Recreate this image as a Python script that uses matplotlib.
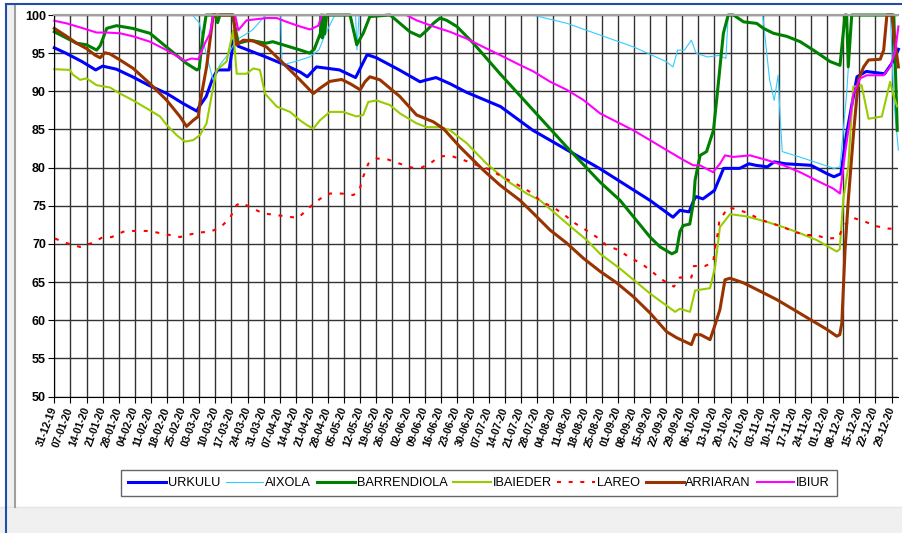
import numpy as np
import pandas as pd
import matplotlib
matplotlib.use("Agg")
import matplotlib.pyplot as plt
import matplotlib.dates as mdates
from matplotlib.patches import Rectangle
from matplotlib.lines import Line2D

# reservoir levels (%), x = days after 31-12-2019
start = pd.Timestamp("2019-12-31")

urkulu_d = [0, 5, 12, 18, 21, 27, 34, 41, 49, 56, 62, 63, 66, 69, 71, 76, 78, 80, 86, 92, 100, 107, 110, 114, 124,
            131, 136, 140, 150, 159, 162, 166, 172, 179, 194, 208, 223, 237, 248, 259, 269, 272, 276, 278, 279, 282,
            287, 291, 298, 302, 305, 310, 313, 318, 329, 336, 339, 342, 344.5, 349, 353, 361, 364, 366, 367]
urkulu_v = [95.7, 95.0, 93.9, 92.8, 93.3, 92.9, 91.9, 90.8, 89.7, 88.4, 87.4, 88.0, 89.3, 91.8, 92.8, 92.8, 96.7,
            95.9, 95.2, 94.5, 93.5, 92.5, 91.9, 93.2, 92.8, 91.8, 94.8, 94.4, 92.8, 91.25, 91.5, 91.8, 91.0, 89.9,
            88.0, 84.9, 82.3, 79.9, 77.8, 75.7, 73.5, 74.4, 74.2, 75.7, 76.2, 75.9, 77.0, 79.9, 79.9, 80.5, 80.3,
            80.1, 80.75, 80.5, 80.3, 79.2, 78.8, 79.2, 84.5, 91.9, 92.6, 92.3, 93.6, 94.75, 95.5]

aixola_d = [0, 60, 63, 66, 69, 72, 76, 79, 86, 92, 98.5, 99, 101, 107, 111, 115, 118, 122, 131, 131.6, 132.5, 208,
            223, 237, 252, 266, 269, 271, 274, 277, 279, 284, 289, 292, 293, 308, 311, 313, 314.7, 315.5, 316.5,
            324, 339, 341.6, 344.5, 346.7, 363.5, 365, 367]
aixola_v = [100, 100, 99, 95, 91.5, 93.5, 95, 96.7, 98, 100, 100, 93.4, 93.6, 94.1, 94.5, 95.4, 97.6, 100, 100,
            95.4, 100, 100, 98.9, 97.4, 95.8, 93.9, 93.2, 95.4, 95.4, 96.7, 95.0, 94.5, 94.7, 94.3, 100, 100, 91.5,
            88.8, 92.1, 87.1, 82.1, 81.4, 79.9, 80.1, 89.7, 100, 100, 88.8, 82.3]

barrend_d = [0, 9.7, 14, 18.4, 20, 22.8, 27, 34, 41.6, 48.8, 57.5, 62, 63, 64.5, 66, 70, 71, 72, 77.5, 80, 85, 92,
             95, 107, 111, 113, 115.7, 116, 116.5, 117, 117.5, 118.4, 128.6, 131.5, 134.3, 137.2, 146, 150.3, 154.6,
             159, 162, 164.8, 167.7, 170.6, 175, 182.2, 193.8, 208.3, 222.8, 237.3, 246, 259, 263.4, 268.5, 270.5,
             272, 273.4, 276.3, 278, 278.6, 280.8, 283.6, 286.6, 288.7, 290.9, 293, 295.3, 299.7, 305.4, 308.3,
             312.7, 318.5, 324.3, 330, 337.3, 341.6, 343.8, 344.5, 345.2, 346.7, 362, 365, 366.5]
barrend_v = [97.8, 96.3, 96.1, 95.4, 96.0, 98.25, 98.6, 98.25, 97.6, 95.8, 93.65, 92.8, 93.0, 97.0, 100, 100, 99.0,
             100, 100, 96.3, 96.7, 96.3, 96.5, 95.4, 95.0, 95.5, 97.6, 100, 97.0, 100, 97.5, 100, 100, 96.1, 97.6,
             99.8, 100, 98.9, 97.8, 97.2, 98.0, 98.9, 99.6, 99.3, 98.5, 96.3, 92.3, 87.5, 82.7, 78.1, 75.7, 70.9,
             69.6, 68.7, 69.0, 71.6, 72.4, 72.6, 75.7, 78.35, 81.6, 82.1, 84.9, 91.0, 97.6, 100, 100, 99.1, 98.9,
             98.25, 97.6, 97.2, 96.5, 95.4, 93.9, 93.4, 100, 100, 93.2, 100, 100, 100, 84.9]

ibaieder_d = [0, 6.8, 8, 11.2, 14, 18.4, 24.2, 28.6, 34.3, 41.6, 46, 48.8, 53.2, 56.8, 60.4, 63.3, 66.2, 69.1, 70.6,
              74.9, 77.8, 79.3, 83.6, 86.5, 89.4, 91.6, 96.7, 102.5, 106.8, 109.7, 112.6, 115.5, 119.8, 125.6, 131.4,
              134.3, 136.5, 140.1, 145.9, 150.3, 157.5, 161.9, 167.7, 172, 179.3, 188, 196.7, 205.4, 211.2, 222.8,
              231.5, 237.3, 246, 259, 269.9, 272, 276.4, 278.6, 285.1, 287.3, 289.4, 293.8, 301, 309.7, 317, 324.2,
              331.5, 340.2, 341.5, 343, 345.2, 347.4, 351, 354, 359.8, 363.4, 365, 366.5]
ibaieder_v = [92.9, 92.8, 92.2, 91.5, 91.7, 90.8, 90.5, 89.7, 88.8, 87.5, 86.7, 85.6, 84.25, 83.4, 83.6, 84.25, 85.8,
              90.6, 92.8, 93.9, 98.0, 92.3, 92.3, 93.0, 92.8, 89.7, 88.0, 87.3, 86.2, 85.6, 85.1, 86.2, 87.3, 87.3,
              86.7, 86.9, 88.6, 88.8, 88.2, 87.1, 85.8, 85.3, 85.3, 84.9, 83.2, 80.5, 78.3, 76.6, 75.7, 72.7, 70.5,
              68.7, 66.75, 63.5, 61.1, 61.5, 61.1, 63.9, 64.2, 67.0, 72.2, 73.9, 73.6, 72.9, 72.2, 71.4, 70.5, 69.0,
              69.3, 75.7, 80.1, 90.6, 90.8, 86.4, 86.7, 91.25, 89.3, 88.0]

lareo_d = [0.3, 5.4, 11.2, 16.2, 20.6, 25, 30, 34.3, 40, 44.5, 49.6, 54.6, 58.3, 63.3, 67.7, 72, 76.4, 79.3, 81.4,
           86.5, 90.9, 96, 101, 106, 111, 115.5, 119.8, 124.9, 130, 132.6, 134.3, 136.5, 140.1, 145.2, 150.3, 155.4,
           159.7, 164.1, 167.7, 172.8, 177.9, 183, 188, 192.4, 197.5, 201.8, 206.9, 211.9, 217, 222, 226.4, 231.2,
           235.8, 240.2, 245.2, 250.3, 255.4, 260.1, 264.8, 269.4, 272, 277, 278.1, 282.9, 286.5, 287.3, 288.3,
           289.2, 293.1, 298.2, 302.5, 307.6, 312, 317, 321.4, 326.4, 331.5, 336.2, 341, 343.1, 347.5, 352.6,
           357.7, 362.8, 365]
lareo_v = [70.7, 70.1, 69.6, 70.1, 70.8, 70.9, 71.6, 71.7, 71.7, 71.5, 71.2, 70.9, 71.2, 71.5, 71.6, 72.1, 73.4,
           75.1, 75.4, 74.6, 74.0, 73.8, 73.6, 73.4, 74.8, 75.9, 76.6, 76.6, 76.4, 77.0, 78.8, 80.5, 81.2, 81.05,
           80.5, 80.0, 80.0, 80.7, 81.5, 81.5, 81.0, 80.4, 79.9, 79.2, 78.35, 77.7, 76.8, 75.5, 74.8, 73.75, 72.7,
           71.8, 70.9, 69.8, 69.2, 68.2, 67.4, 66.3, 65.2, 64.4, 65.6, 65.6, 67.1, 67.1, 67.6, 69.6, 71.1, 73.1,
           74.8, 74.4, 73.9, 73.1, 72.7, 72.2, 71.6, 71.2, 71.1, 70.7, 70.8, 72.4, 73.4, 72.9, 72.3, 72.0, 72.0]

arriaran_d = [0, 5.4, 9.7, 14, 17.7, 19.9, 22, 24.2, 28.6, 34.3, 41.6, 48.8, 54.6, 57.5, 60.4, 62.6, 63.3, 66.2,
              67.7, 69.1, 77.8, 79.3, 82.2, 86.5, 92.3, 99.6, 106.8, 112.6, 115.5, 119.8, 124.9, 128.6, 133, 135.1,
              137.2, 141.6, 150.3, 157.5, 164.8, 169.2, 176.4, 186.6, 193.8, 202.5, 208.3, 215.6, 222.8, 230.1,
              237.3, 244.5, 251.7, 259, 266.2, 270.6, 277, 278.6, 281, 285.1, 287.3, 289.4, 291.6, 293.8, 299.6,
              306.9, 314.1, 321.4, 328.6, 335.9, 340.2, 341.5, 342.4, 343.8, 345.2, 347.5, 349.6, 351.9, 354, 359.1,
              360.6, 362, 364.2, 365, 367]
arriaran_v = [98.25, 97.2, 96.3, 95.6, 94.75, 94.4, 95.05, 94.9, 94.1, 93.0, 91.0, 88.85, 86.7, 85.4, 86.2, 86.7,
              88.4, 93.2, 96.7, 100, 100, 96.1, 96.7, 96.6, 95.8, 93.65, 91.5, 89.7, 90.4, 91.3, 91.55, 91.0, 90.2,
              91.25, 91.9, 91.5, 89.3, 86.9, 86.0, 85.1, 82.7, 79.65, 77.7, 75.7, 74.0, 71.8, 70.1, 68.1, 66.4, 64.9,
              63.1, 60.95, 58.5, 57.7, 56.8, 58.1, 58.1, 57.45, 59.4, 61.4, 65.3, 65.5, 64.9, 63.8, 62.7, 61.4, 60.1,
              58.8, 57.9, 58.1, 59.6, 69.2, 75.7, 84.5, 91.5, 93.2, 94.1, 94.2, 95.4, 100, 100, 97.6, 93.2]

ibiur_d = [0, 5.4, 12.6, 18.4, 22.8, 28.6, 34.3, 41.6, 48.8, 56.8, 59.7, 62.6, 65.5, 67.7, 69.1, 78.6, 80, 83.6,
           92.3, 96.7, 101, 106.8, 111.2, 114.8, 116.3, 153.1, 157.5, 164.8, 172, 179.3, 186.6, 193.8, 201.1, 208.3,
           215.6, 222.8, 230.1, 237.3, 244.5, 251.7, 259, 266.2, 273.5, 277.8, 280.7, 286.4, 289.4, 291.6, 295.2,
           302.5, 309.7, 317, 324.2, 331.5, 338.7, 341.6, 343.8, 347.5, 350.4, 353.3, 360.5, 363.4, 365.6, 367]
ibiur_v = [99.25, 98.9, 98.25, 97.7, 97.7, 97.6, 97.2, 96.5, 95.4, 94.0, 94.3, 94.2, 96.3, 97.6, 100, 100, 98.0,
           99.3, 99.6, 99.6, 99.1, 98.5, 98.1, 98.6, 100, 100, 99.3, 98.5, 97.8, 96.9, 95.8, 94.75, 93.65, 92.6,
           91.25, 90.2, 88.85, 87.1, 86.0, 84.9, 83.6, 82.3, 81.0, 80.3, 80.3, 79.4, 80.5, 81.6, 81.4, 81.6, 81.0,
           80.3, 79.4, 78.3, 77.25, 76.6, 81.85, 89.7, 91.7, 92.1, 92.1, 93.2, 95.2, 98.5]

names = ["URKULU", "AIXOLA", "BARRENDIOLA", "IBAIEDER", "LAREO", "ARRIARAN", "IBIUR"]
series = [(urkulu_d, urkulu_v), (aixola_d, aixola_v), (barrend_d, barrend_v), (ibaieder_d, ibaieder_v),
          (lareo_d, lareo_v), (arriaran_d, arriaran_v), (ibiur_d, ibiur_v)]
colors = ["#0000ff", "#33ccff", "#008000", "#99cc00", "#ff0000", "#993300", "#ff00ff"]
widths = [2.2, 0.8, 2.2, 1.5, 1.5, 2.2, 1.5]

W, H = 902, 533
fig = plt.figure(figsize=(W / 100, H / 100), dpi=100)
ax = fig.add_axes([54.3 / W, 1 - 396.5 / H, (898.4 - 54.3) / W, (396.5 - 15) / H])

for (d, v), name, c, lw in zip(series, names, colors, widths):
    x = start + pd.to_timedelta(np.array(d, dtype=float), unit="D")
    if name == "LAREO":
        ax.plot(x, v, color=c, lw=lw, dashes=(1.9, 3.7), label=name, clip_on=False)
    else:
        ax.plot(x, v, color=c, lw=lw, label=name, clip_on=False)

ax.set_ylim(50, 100)
ax.set_yticks(range(50, 101, 5))
ax.set_xlim(start, start + pd.Timedelta(days=367))
ax.set_xticks(pd.date_range("2019-12-31", "2020-12-29", freq="7D"))
ax.xaxis.set_major_formatter(mdates.DateFormatter("%d-%m-%y"))

ax.grid(True, color="#333333", lw=1.0)
ax.set_axisbelow(True)
for s in ["left", "bottom"]:
    ax.spines[s].set_color("black")
ax.spines["top"].set_color("#a0a0a0")
ax.spines["top"].set_linewidth(1.5)
ax.spines["right"].set_visible(False)

ax.tick_params(axis="y", length=4, pad=2, labelsize=9)
ax.tick_params(axis="x", length=4, pad=4, labelsize=7.5)
for t in ax.get_yticklabels():
    t.set_fontweight("bold")
    t.set_family(["Liberation Sans", "DejaVu Sans"])
for t in ax.get_xticklabels():
    t.set_fontweight("bold")
    t.set_family(["Liberation Sans", "DejaVu Sans"])
    t.set_rotation(70)
    t.set_ha("right")
    t.set_va("center")
    t.set_rotation_mode("anchor")

leg = fig.legend(loc="center", bbox_to_anchor=(479 / W, 1 - 483 / H), ncol=7, fancybox=False,
                 prop={"family": ["Liberation Sans", "DejaVu Sans"], "size": 9.2},
                 handlelength=2.95, handletextpad=0.15, columnspacing=0.45, borderpad=0.55,
                 borderaxespad=0, frameon=True)
leg.get_frame().set_edgecolor("#404040")
leg.get_frame().set_linewidth(1.0)

# window chrome around the chart
def px_rect(x0, y0, x1, y1, **kw):
    fig.add_artist(Rectangle((x0 / W, 1 - y1 / H), (x1 - x0) / W, (y1 - y0) / H,
                             transform=fig.transFigure, **kw))

px_rect(0, 507, W, H, color="#f0f0f0", lw=0)
px_rect(7, 5, 14, H, color="#f0f0f0", lw=0)
fig.add_artist(Line2D([0, 1], [1 - 507 / H] * 2, transform=fig.transFigure, color="#e4e4e4", lw=1))
fig.add_artist(Line2D([15 / W] * 2, [1 - 507 / H, 1 - 5 / H], transform=fig.transFigure, color="#a0a0a0", lw=1.5))
fig.add_artist(Line2D([6 / W] * 2, [0, 1 - 4 / H], transform=fig.transFigure, color="#1f4fa8", lw=1.5))
fig.add_artist(Line2D([6 / W, 1], [1 - 4 / H] * 2, transform=fig.transFigure, color="#1f4fa8", lw=1.5))

fig.savefig("out.png", dpi=100)
